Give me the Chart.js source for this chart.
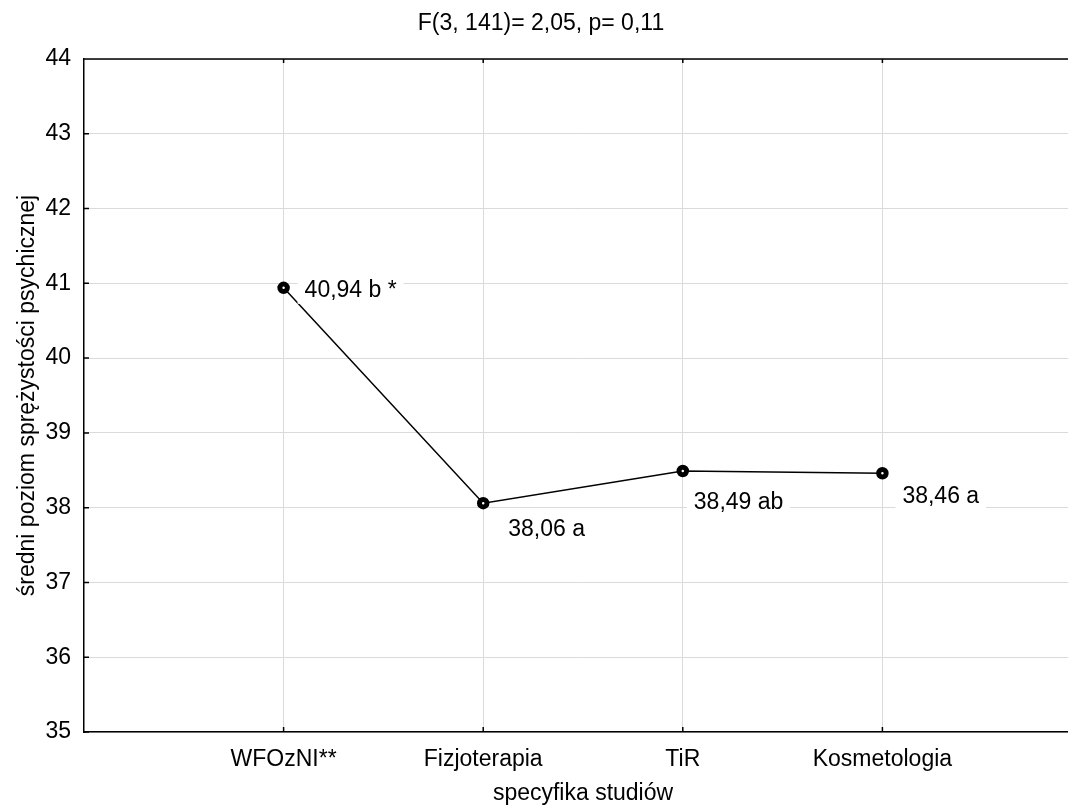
<!DOCTYPE html>
<html>
<head>
<meta charset="utf-8">
<script src="https://cdn.jsdelivr.net/npm/chart.js@4"></script>
<style>
  html, body { margin: 0; padding: 0; overflow: hidden; background: #fff; }
  canvas { display: block; }
</style>
</head>
<body>
<canvas id="meansChart" width="1084" height="805"></canvas>
<script>
// data
const categories = ['WFOzNI**', 'Fizjoterapia', 'TiR', 'Kosmetologia'];
const means = [40.94, 38.06, 38.49, 38.46];
const groups = ['b *', 'a', 'ab', 'a'];
const yTickValues = [35, 36, 37, 38, 39, 40, 41, 42, 43, 44];

// where each value label sits relative to its point (dx to text start, dy to baseline)
const labelOffsets = [[21, 9], [25, 33], [11, 38], [20, 30]];

const FONT = "'Liberation Sans', Arial, sans-serif";
Chart.defaults.font.family = FONT;
Chart.defaults.font.size = 23;
Chart.defaults.color = '#000';

const fmt = v => v.toFixed(2).replace('.', ',');

// inward tick marks + top frame line
const frameTicks = {
    id: 'frameTicks',
    afterDraw(chart) {
        const {ctx, chartArea: {left, right, top, bottom}, scales: {x, y}} = chart;
        ctx.save();
        ctx.strokeStyle = '#000';
        ctx.lineWidth = 1.5;
        ctx.beginPath();
        ctx.moveTo(left, top);
        ctx.lineTo(right, top);
        x.ticks.forEach(t => {
            const px = x.getPixelForValue(t.value);
            ctx.moveTo(px, top); ctx.lineTo(px, top + 4);
            ctx.moveTo(px, bottom); ctx.lineTo(px, bottom - 5);
        });
        y.ticks.forEach(t => {
            const py = y.getPixelForValue(t.value);
            ctx.moveTo(left, py); ctx.lineTo(left + 5, py);
        });
        ctx.stroke();
        ctx.restore();
    }
};

// value labels with white box behind
const valueLabels = {
    id: 'valueLabels',
    afterDatasetsDraw(chart) {
        const {ctx} = chart;
        const pts = chart.getDatasetMeta(0).data;
        ctx.save();
        ctx.font = '23px ' + FONT;
        ctx.textBaseline = 'alphabetic';
        ctx.textAlign = 'left';
        pts.forEach((p, i) => {
            const txt = fmt(means[i]) + ' ' + groups[i];
            const tx = p.x + labelOffsets[i][0];
            const ty = p.y + labelOffsets[i][1];
            const w = ctx.measureText(txt).width;
            ctx.fillStyle = '#fff';
            ctx.fillRect(tx - 7, ty - 21, w + 14, 28);
            ctx.fillStyle = '#000';
            ctx.fillText(txt, tx, ty);
        });
        ctx.restore();
    }
};

const ctx = document.getElementById('meansChart');

new Chart(ctx, {
    type: 'line',
    data: {
        datasets: [{
            data: means.map((v, i) => ({x: i + 1, y: v})),
            borderColor: '#000',
            borderWidth: 1.5,
            pointRadius: 3.75,
            pointHoverRadius: 3.75,
            pointBorderWidth: 5,
            pointBackgroundColor: '#fff',
            pointBorderColor: '#000',
            tension: 0
        }]
    },
    options: {
        responsive: false,
        animation: false,
        layout: { autoPadding: false, padding: { left: 0, right: 2, top: 0, bottom: 0 } },
        scales: {
            x: {
                type: 'linear',
                min: 0,
                max: categories.length + 1,
                afterBuildTicks(scale) {
                    scale.ticks = categories.map((c, i) => ({value: i + 1}));
                },
                afterFit(scale) { scale.height = 73; },
                ticks: {
                    padding: 13.5,
                    callback: v => categories[v - 1]
                },
                grid: { color: '#dadada', lineWidth: 1, drawTicks: false },
                border: { color: '#000', width: 1.5 },
                title: {
                    display: true,
                    text: 'specyfika studiów',
                    font: { size: 23 },
                    padding: { top: 0, bottom: -2 }
                }
            },
            y: {
                min: yTickValues[0],
                max: yTickValues[yTickValues.length - 1],
                afterBuildTicks(scale) {
                    scale.ticks = yTickValues.map(v => ({value: v}));
                },
                afterFit(scale) { scale.width = 84; },
                ticks: { padding: 13 },
                grid: { color: '#dadada', lineWidth: 1, drawTicks: false },
                border: { color: '#000', width: 1.5 },
                title: {
                    display: true,
                    text: 'średni poziom sprężystości psychicznej',
                    font: { size: 23 },
                    padding: { top: 14, bottom: 0 }
                }
            }
        },
        plugins: {
            legend: { display: false },
            tooltip: { enabled: false },
            title: {
                display: true,
                text: 'F(3, 141)= 2,05, p= 0,11',
                font: { size: 23, weight: 'normal' },
                color: '#000',
                padding: { top: 10, bottom: 21.4 }
            }
        }
    },
    plugins: [frameTicks, valueLabels]
});
</script>
</body>
</html>
